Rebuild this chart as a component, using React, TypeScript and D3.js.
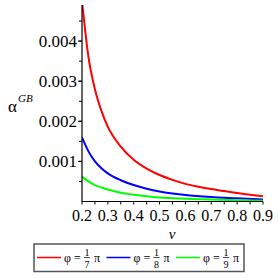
import React from 'react';
import * as d3 from 'd3';

// values
const vRed = [0.2, 0.225, 0.25, 0.275, 0.3, 0.35, 0.4, 0.45, 0.5, 0.55, 0.6, 0.65, 0.7, 0.75, 0.8, 0.85, 0.9];
const alphaRed = [0.005, 0.0036, 0.0028, 0.00226, 0.00186, 0.00137, 0.00104, 0.00082, 0.00066, 0.00054, 0.00044, 0.00037, 0.00031, 0.00026, 0.00021, 0.00017, 0.00013];

const vBlue = [0.2, 0.225, 0.25, 0.275, 0.3, 0.35, 0.4, 0.45, 0.5, 0.55, 0.6, 0.7, 0.8, 0.9];
const alphaBlue = [0.0016, 0.00125, 0.001, 0.00083, 0.0007, 0.00053, 0.00041, 0.00032, 0.00025, 0.0002, 0.00016, 0.00011, 0.00008, 0.00005];

const vGreen = [0.2, 0.225, 0.25, 0.275, 0.3, 0.35, 0.4, 0.45, 0.5, 0.6, 0.7, 0.8, 0.9];
const alphaGreen = [0.00062, 0.0005, 0.00041, 0.00035, 0.0003, 0.00022, 0.00017, 0.00013, 0.0001, 0.00007, 0.00005, 0.00003, 0.00002];

const xTickLabels = ['0.2', '0.3', '0.4', '0.5', '0.6', '0.7', '0.8', '0.9'];
const yTickLabels = ['0.001', '0.002', '0.003', '0.004'];
const phiDenoms = ['7', '8', '9'];
const seriesColors = ['#ff0000', '#0000ff', '#00ff00'];

const W = 278;
const H = 278;
const left = 82;
const right = 263;
const top = 5;
const bottom = 201.5;
const serif = '"Liberation Serif", "DejaVu Serif", serif';

export default function App() {
  const x = d3.scaleLinear().domain([0.2, 0.9]).range([left, right]);
  const y = d3.scaleLinear().domain([0, 0.0049]).range([bottom, top]);

  const series = [
    { v: vRed, a: alphaRed },
    { v: vBlue, a: alphaBlue },
    { v: vGreen, a: alphaGreen },
  ];

  const line = d3
    .line<[number, number]>()
    .x(d => x(d[0]))
    .y(d => y(d[1]))
    .curve(d3.curveMonotoneX);

  const xMinor = d3.range(0.2, 0.9001, 0.05);
  const yMinor = d3.range(0.0005, 0.00491, 0.0005);

  return (
    <svg width={W} height={H} style={{ position: 'absolute', left: 0, top: 0, background: '#fff' }} fontFamily={serif}>
      <defs>
        <clipPath id="plot">
          <rect x={left} y={top} width={right - left} height={bottom - top} />
        </clipPath>
      </defs>

      <g clipPath="url(#plot)">
        {series.map((s, i) => (
          <path
            key={i}
            d={line(s.v.map((v, j) => [v, s.a[j]] as [number, number])) || ''}
            fill="none"
            stroke={seriesColors[i]}
            strokeWidth={2}
          />
        ))}
      </g>

      {/* axes */}
      <line x1={left} x2={left} y1={top} y2={bottom + 0.5} stroke="#000" strokeWidth={1.2} />
      <line x1={left} x2={right} y1={bottom} y2={bottom} stroke="#000" strokeWidth={1.2} />

      {yMinor.map((t, i) => (
        <line key={'ym' + i} x1={left - 3} x2={left} y1={y(t)} y2={y(t)} stroke="#000" strokeWidth={1} />
      ))}
      {yTickLabels.map(t => (
        <g key={t}>
          <line x1={left - 4} x2={left} y1={y(+t)} y2={y(+t)} stroke="#000" strokeWidth={1} />
          <text x={left - 5} y={y(+t)} dy="0.35em" textAnchor="end" fontSize={17}>
            {t}
          </text>
        </g>
      ))}

      {xMinor.map((t, i) => (
        <line key={'xm' + i} x1={x(t)} x2={x(t)} y1={bottom} y2={bottom + 3} stroke="#000" strokeWidth={1} />
      ))}
      {xTickLabels.map(t => (
        <text key={t} x={x(+t)} y={221} textAnchor="middle" fontSize={16}>
          {t}
        </text>
      ))}

      {/* axis titles */}
      <text x={172} y={239} textAnchor="middle" fontStyle="italic" fontSize={15}>
        v
      </text>
      <text x={8} y={112} fontSize={17}>
        α
      </text>
      <text x={18} y={102} fontStyle="italic" fontSize={11}>
        GB
      </text>

      {/* legend */}
      <rect x={34} y={244} width={210} height={27.5} fill="#fff" stroke="#555" strokeWidth={1.5} />
      {phiDenoms.map((dn, i) => {
        const ox = 37 + i * 69.5;
        const cy = 257.5;
        return (
          <g key={dn}>
            <line x1={ox} x2={ox + 24} y1={cy} y2={cy} stroke={seriesColors[i]} strokeWidth={1.5} />
            <text x={ox + 27} y={cy + 4} fontSize={12}>
              φ =
            </text>
            <text x={ox + 50} y={cy - 2} textAnchor="middle" fontSize={10}>
              1
            </text>
            <line x1={ox + 47} x2={ox + 53} y1={cy} y2={cy} stroke="#000" strokeWidth={0.7} />
            <text x={ox + 50} y={cy + 10} textAnchor="middle" fontSize={10}>
              {dn}
            </text>
            <text x={ox + 57} y={cy + 4} fontSize={12}>
              π
            </text>
          </g>
        );
      })}
    </svg>
  );
}
